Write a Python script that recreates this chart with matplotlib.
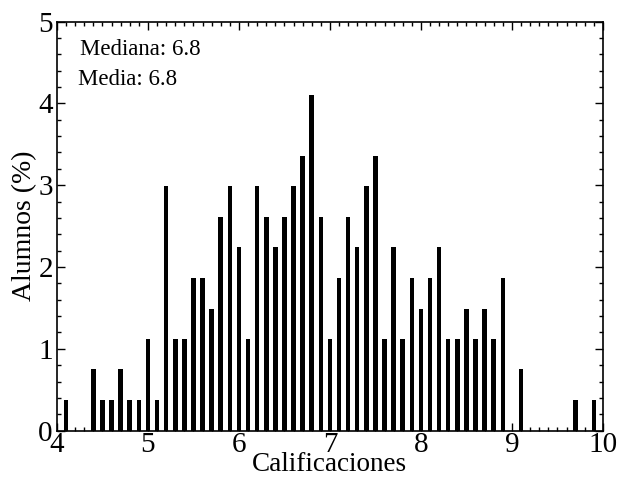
import matplotlib
matplotlib.use("Agg")
import matplotlib.pyplot as plt
from matplotlib.ticker import MultipleLocator

# grade bins (bar centres) and share of students in %
grades = [4.1, 4.4, 4.5, 4.6, 4.7, 4.8, 4.9,
          5.0, 5.1, 5.2, 5.3, 5.4, 5.5, 5.6, 5.7, 5.8, 5.9,
          6.0, 6.1, 6.2, 6.3, 6.4, 6.5, 6.6, 6.7, 6.8, 6.9,
          7.0, 7.1, 7.2, 7.3, 7.4, 7.5, 7.6, 7.7, 7.8, 7.9,
          8.0, 8.1, 8.2, 8.3, 8.4, 8.5, 8.6, 8.7, 8.8, 8.9,
          9.1, 9.7, 9.9]
percent = [0.37, 0.75, 0.37, 0.37, 0.75, 0.37, 0.37,
           1.12, 0.37, 2.99, 1.12, 1.12, 1.87, 1.87, 1.49, 2.61, 2.99,
           2.24, 1.12, 2.99, 2.61, 2.24, 2.61, 2.99, 3.36, 4.10, 2.61,
           1.12, 1.87, 2.61, 2.24, 2.99, 3.36, 1.12, 2.24, 1.12, 1.87,
           1.49, 1.87, 2.24, 1.12, 1.12, 1.49, 1.12, 1.49, 1.12, 1.87,
           0.75, 0.37, 0.37]

median_txt = "Mediana: 6.8"
mean_txt = "Media: 6.8"

plt.rcParams["font.family"] = ["Liberation Serif", "DejaVu Serif"]

fig = plt.figure(figsize=(6.19, 4.79), dpi=100)
ax = fig.add_axes([0.092, 0.101, 0.882, 0.854])

ax.bar(grades, percent, width=0.05, color="black", linewidth=0)

ax.set_xlim(4, 10)
ax.set_ylim(0, 5)
ax.xaxis.set_major_locator(MultipleLocator(1))
ax.xaxis.set_minor_locator(MultipleLocator(0.1))
ax.yaxis.set_major_locator(MultipleLocator(1))
ax.yaxis.set_minor_locator(MultipleLocator(0.2))
ax.tick_params(which="both", direction="in", top=True, right=True, width=1)
ax.tick_params(which="major", length=5.5, labelsize=21)
ax.tick_params(axis="x", which="major", pad=1)
ax.tick_params(axis="y", which="major", pad=3)
ax.tick_params(which="minor", length=3)
for s in ax.spines.values():
    s.set_linewidth(1.2)

ax.set_xlabel("Calificaciones", fontsize=19.5, labelpad=-4)
ax.set_ylabel("Alumnos (%)", fontsize=20, labelpad=1)

ax.text(0.042, 0.931, median_txt, transform=ax.transAxes, fontsize=16.5, va="center")
ax.text(0.038, 0.858, mean_txt, transform=ax.transAxes, fontsize=16.5, va="center")

fig.savefig("out.png", dpi=100)
